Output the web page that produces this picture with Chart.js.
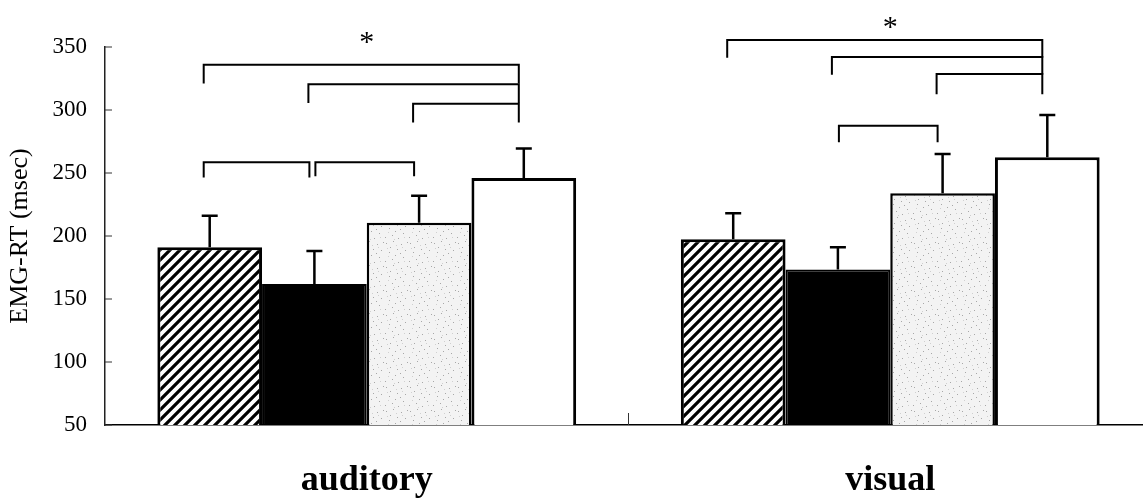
<!DOCTYPE html>
<html>
<head>
<meta charset="utf-8">
<script src="https://cdn.jsdelivr.net/npm/chart.js@4.4.1/dist/chart.umd.min.js"></script>
<style>
  html, body { margin: 0; padding: 0; background: #fff; overflow: hidden; }
</style>
</head>
<body>
<canvas id="chartCanvas" width="1152" height="499"></canvas>
<script>
// data (msec)
var categories = ['auditory', 'visual'];
var seriesNames = ['condition 1', 'condition 2', 'condition 3', 'condition 4'];
var hatchedMeans = [191, 197.5];
var blackMeans = [162, 173.5];
var dottedMeans = [210.5, 234];
var whiteMeans = [246, 262.5];
var hatchedSD = [25, 20.5];
var blackSD = [26, 17.5];
var dottedSD = [21.5, 31];
var whiteSD = [23.5, 33.5];
var yTicks = [50, 100, 150, 200, 250, 300, 350];

// significance brackets: category, from bar, to bar, level (msec), leg (msec)
var brackets = [
  { cat: 0, from: 0, to: 3, level: 336, leg: 15 },
  { cat: 0, from: 1, to: 3, level: 320.5, leg: 15 },
  { cat: 0, from: 2, to: 3, level: 305, leg: 15 },
  { cat: 0, from: 0, to: 1, level: 258.5, leg: 12 },
  { cat: 0, from: 1, to: 2, level: 258.5, leg: 11, startShift: 7 },
  { cat: 1, from: 0, to: 3, level: 355.5, leg: 14 },
  { cat: 1, from: 1, to: 3, level: 342, leg: 14 },
  { cat: 1, from: 2, to: 3, level: 328.5, leg: 16 },
  { cat: 1, from: 1, to: 2, level: 287.5, leg: 13, startShift: 7 }
];
var stars = [
  { cat: 0, level: 358 },
  { cat: 1, level: 370 }
];

var ctx = document.getElementById('chartCanvas').getContext('2d');

function hatchPattern() {
  var c = document.createElement('canvas');
  c.width = 10; c.height = 10;
  var g = c.getContext('2d');
  g.fillStyle = '#fff';
  g.fillRect(0, 0, 10, 10);
  g.strokeStyle = '#000';
  g.lineWidth = 3.2;
  g.beginPath();
  g.moveTo(-2, 12); g.lineTo(12, -2);
  g.moveTo(-2, 2); g.lineTo(2, -2);
  g.moveTo(8, 12); g.lineTo(12, 8);
  g.stroke();
  return ctx.createPattern(c, 'repeat');
}

function stipplePattern() {
  var c = document.createElement('canvas');
  c.width = 24; c.height = 24;
  var g = c.getContext('2d');
  g.fillStyle = '#f3f3f3';
  g.fillRect(0, 0, 24, 24);
  var dots = [[2,3],[9,1],[17,4],[21,10],[5,12],[13,9],[19,17],[8,19],[1,21],[14,22],[11,15],[23,2],[6,7],[16,13]];
  g.fillStyle = '#a8a8a8';
  dots.forEach(function(d) { g.fillRect(d[0], d[1], 1, 1); });
  g.fillStyle = '#d0d0d0';
  [[4,16],[12,5],[20,21],[18,7],[3,8],[10,23]].forEach(function(d) { g.fillRect(d[0], d[1], 1, 1); });
  return ctx.createPattern(c, 'repeat');
}

var sdList = [hatchedSD, blackSD, dottedSD, whiteSD];

var annotations = {
  id: 'annotations',
  afterDatasetsDraw: function(chart) {
    var c = chart.ctx;
    var ys = chart.scales.y;
    var xs = chart.scales.x;
    c.save();
    c.strokeStyle = '#000';
    c.lineCap = 'butt';

    // error bars (upper only)
    c.lineWidth = 2.5;
    chart.data.datasets.forEach(function(ds, d) {
      var meta = chart.getDatasetMeta(d);
      meta.data.forEach(function(el, j) {
        var yCap = ys.getPixelForValue(ds.data[j] + sdList[d][j]);
        c.beginPath();
        c.moveTo(el.x, el.y);
        c.lineTo(el.x, yCap);
        c.moveTo(el.x - 8, yCap);
        c.lineTo(el.x + 8, yCap);
        c.stroke();
      });
    });

    // brackets
    c.lineWidth = 2;
    brackets.forEach(function(b) {
      var x1 = chart.getDatasetMeta(b.from).data[b.cat].x - 6 + (b.startShift || 0);
      var x2 = chart.getDatasetMeta(b.to).data[b.cat].x - 5;
      var y = ys.getPixelForValue(b.level);
      var yl = ys.getPixelForValue(b.level - b.leg);
      c.beginPath();
      c.moveTo(x1, yl);
      c.lineTo(x1, y);
      c.lineTo(x2, y);
      c.lineTo(x2, yl);
      c.stroke();
    });

    // stars
    c.fillStyle = '#000';
    c.font = '30px "Liberation Serif"';
    c.textAlign = 'center';
    c.textBaseline = 'middle';
    stars.forEach(function(s) {
      c.fillText('*', xs.getPixelForTick(s.cat), ys.getPixelForValue(s.level) + 6);
    });

    // inward ticks on y axis
    c.lineWidth = 1;
    c.strokeStyle = '#333';
    yTicks.forEach(function(v) {
      var y = ys.getPixelForValue(v);
      c.beginPath();
      c.moveTo(xs.left, y);
      c.lineTo(xs.left + 7, y);
      c.stroke();
    });
    // category boundary tick on x axis
    var xb = (xs.getPixelForTick(0) + xs.getPixelForTick(1)) / 2;
    c.beginPath();
    c.moveTo(xb, ys.bottom);
    c.lineTo(xb, ys.bottom - 12);
    c.stroke();
    c.restore();
  }
};

var chart = new Chart(ctx, {
  type: 'bar',
  data: {
    labels: categories,
    datasets: [
      { label: seriesNames[0], data: hatchedMeans, backgroundColor: hatchPattern(), borderColor: '#000', borderWidth: 3 },
      { label: seriesNames[1], data: blackMeans, backgroundColor: '#000', borderColor: '#000', borderWidth: 2 },
      { label: seriesNames[2], data: dottedMeans, backgroundColor: stipplePattern(), borderColor: '#000', borderWidth: 2.5 },
      { label: seriesNames[3], data: whiteMeans, backgroundColor: '#fff', borderColor: '#000', borderWidth: 3 }
    ]
  },
  options: {
    responsive: false,
    animation: false,
    categoryPercentage: 0.8,
    barPercentage: 1.0,
    layout: { padding: { top: 47, left: 0, right: 0, bottom: 0 } },
    plugins: {
      legend: { display: false },
      tooltip: { enabled: false }
    },
    scales: {
      x: {
        afterFit: function(s) { s.height = 74; },
        grid: { display: false, drawTicks: false },
        border: { display: true, color: '#000', width: 1.5 },
        ticks: {
          padding: 38,
          color: '#000',
          font: { family: 'Liberation Serif', size: 36, weight: 'bold', lineHeight: 1 }
        }
      },
      y: {
        min: 50,
        max: 350,
        afterBuildTicks: function(s) { s.ticks = yTicks.map(function(v) { return { value: v }; }); },
        afterFit: function(s) { s.width = 105; },
        grid: { display: false, drawTicks: false },
        border: { display: true, color: '#222', width: 1.5 },
        ticks: {
          padding: 18,
          color: '#000',
          font: { family: 'Liberation Serif', size: 23 }
        },
        title: {
          display: true,
          text: 'EMG-RT (msec)',
          color: '#000',
          font: { family: 'Liberation Serif', size: 26 },
          padding: { top: 5, bottom: 0 }
        }
      }
    }
  },
  plugins: [annotations]
});
</script>
</body>
</html>
